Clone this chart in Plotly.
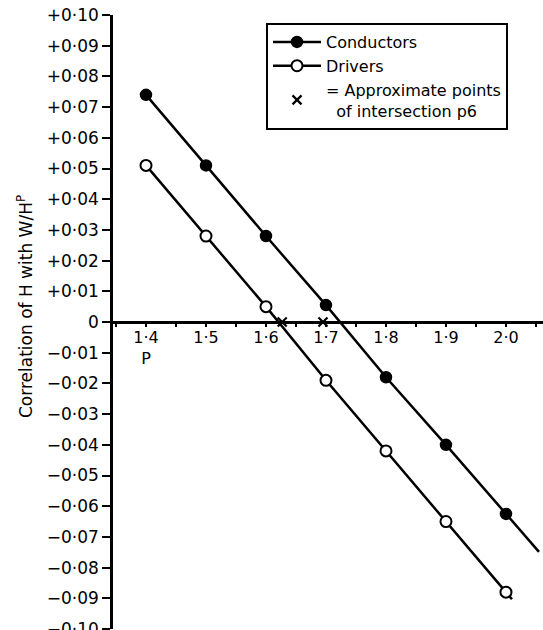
import plotly.graph_objects as go

p_values = [1.4, 1.5, 1.6, 1.7, 1.8, 1.9, 2.0]
conductors = [0.074, 0.051, 0.028, 0.0055, -0.018, -0.040, -0.0625]
drivers = [0.051, 0.028, 0.005, -0.019, -0.042, -0.065, -0.088]
intersections_p = [1.627, 1.695]
intersections_r = [0.0, 0.0]

y_tickvals = [0.10, 0.09, 0.08, 0.07, 0.06, 0.05, 0.04, 0.03, 0.02, 0.01, 0.0,
              -0.01, -0.02, -0.03, -0.04, -0.05, -0.06, -0.07, -0.08, -0.09, -0.10]
y_ticktext = ["+0·10", "+0·09", "+0·08", "+0·07", "+0·06", "+0·05", "+0·04", "+0·03",
              "+0·02", "+0·01", "0", "−0·01", "−0·02", "−0·03", "−0·04", "−0·05",
              "−0·06", "−0·07", "−0·08", "−0·09", "−0·10"]
x_tickvals = [1.4, 1.5, 1.6, 1.7, 1.8, 1.9, 2.0]
x_ticktext = ["1·4<br>P", "1·5", "1·6", "1·7", "1·8", "1·9", "2·0"]

FONT = "DejaVu Sans"

# the page's body margin is removed after plotting, so the div sits at (0, 0)
OFF = 0
PL, PT, PR, PB = 113, 15, 543, 629   # plot area in page pixels
W, H = 543 - OFF, 630 - OFF

def px_x(px):
    return (px - PL) / (PR - PL)

def px_y(py):
    return (PB - py) / (PB - PT)

# extension of the lines past the last point, along the last slope
slope = (conductors[-1] - conductors[-2]) / (p_values[-1] - p_values[-2])
ext_dx = 0.055
cond_ext_x = [p_values[-1], p_values[-1] + ext_dx]
cond_ext_y = [conductors[-1], conductors[-1] + slope * ext_dx]
dslope = (drivers[-1] - drivers[-2]) / (p_values[-1] - p_values[-2])
drv_ext_x = [p_values[-1], p_values[-1] + 0.01]
drv_ext_y = [drivers[-1], drivers[-1] + dslope * 0.01]

fig = go.Figure()
fig.add_trace(go.Scatter(x=cond_ext_x, y=cond_ext_y, mode="lines",
                         line=dict(color="black", width=2.5), showlegend=False, hoverinfo="skip"))
fig.add_trace(go.Scatter(x=drv_ext_x, y=drv_ext_y, mode="lines",
                         line=dict(color="black", width=2.5), showlegend=False, hoverinfo="skip"))
fig.add_trace(go.Scatter(
    x=p_values, y=conductors, mode="lines+markers", name="Conductors",
    line=dict(color="black", width=2.5),
    marker=dict(symbol="circle", size=11, color="black", line=dict(color="black", width=1.5)),
))
fig.add_trace(go.Scatter(
    x=p_values, y=drivers, mode="lines+markers", name="Drivers",
    line=dict(color="black", width=2.5),
    marker=dict(symbol="circle", size=11, color="white", line=dict(color="black", width=2)),
))
fig.add_trace(go.Scatter(
    x=intersections_p, y=intersections_r, mode="markers",
    name="= Approximate points<br>  of intersection p6",
    marker=dict(symbol="x-thin", size=9, color="black", line=dict(color="black", width=2.2)),
))

fig.update_layout(
    width=W, height=H,
    margin=dict(l=PL - OFF, r=0, t=PT - OFF, b=H - (PB - OFF)),
    paper_bgcolor="white", plot_bgcolor="white",
    font=dict(family=FONT, size=16, color="black"),
    showlegend=True,
    legend=dict(
        x=px_x(266), y=px_y(23), xanchor="left", yanchor="top",
        bgcolor="white", bordercolor="black", borderwidth=2,
        font=dict(family=FONT, size=16, color="black"),
        itemwidth=48, tracegroupgap=0,
    ),
    xaxis=dict(
        range=[1.345, 2.0617], anchor="free", position=0.5,
        automargin=False,
        showline=True, linecolor="black", linewidth=2.5,
        showgrid=False, zeroline=False,
        tickvals=x_tickvals, ticktext=x_ticktext,
        ticks="outside", ticklen=3, tickwidth=2, tickcolor="black",
        ticklabelstandoff=-3,
        tickfont=dict(family=FONT, size=16),
        minor=dict(dtick=0.05, tick0=1.35, ticks="outside", ticklen=3, tickwidth=2, tickcolor="black"),
    ),
    yaxis=dict(
        range=[-0.1, 0.1],
        automargin=False,
        showline=True, linecolor="black", linewidth=2.5,
        showgrid=False, zeroline=False,
        tickvals=y_tickvals, ticktext=y_ticktext,
        ticks="outside", ticklen=8, tickwidth=2, tickcolor="black",
        ticklabeloverflow="allow",
        tickfont=dict(family=FONT, size=17),
    ),
    annotations=[dict(
        text="Correlation of H with W/H<sup>P</sup>", textangle=-90,
        xref="paper", yref="paper", x=px_x(25), y=px_y(307),
        xanchor="center", yanchor="middle", showarrow=False,
        font=dict(family=FONT, size=17, color="black"),
    )],
)

fig.write_html("out.html", config={"displayModeBar": False},
               post_script="document.body.style.margin='0';document.body.style.overflow='hidden';")
